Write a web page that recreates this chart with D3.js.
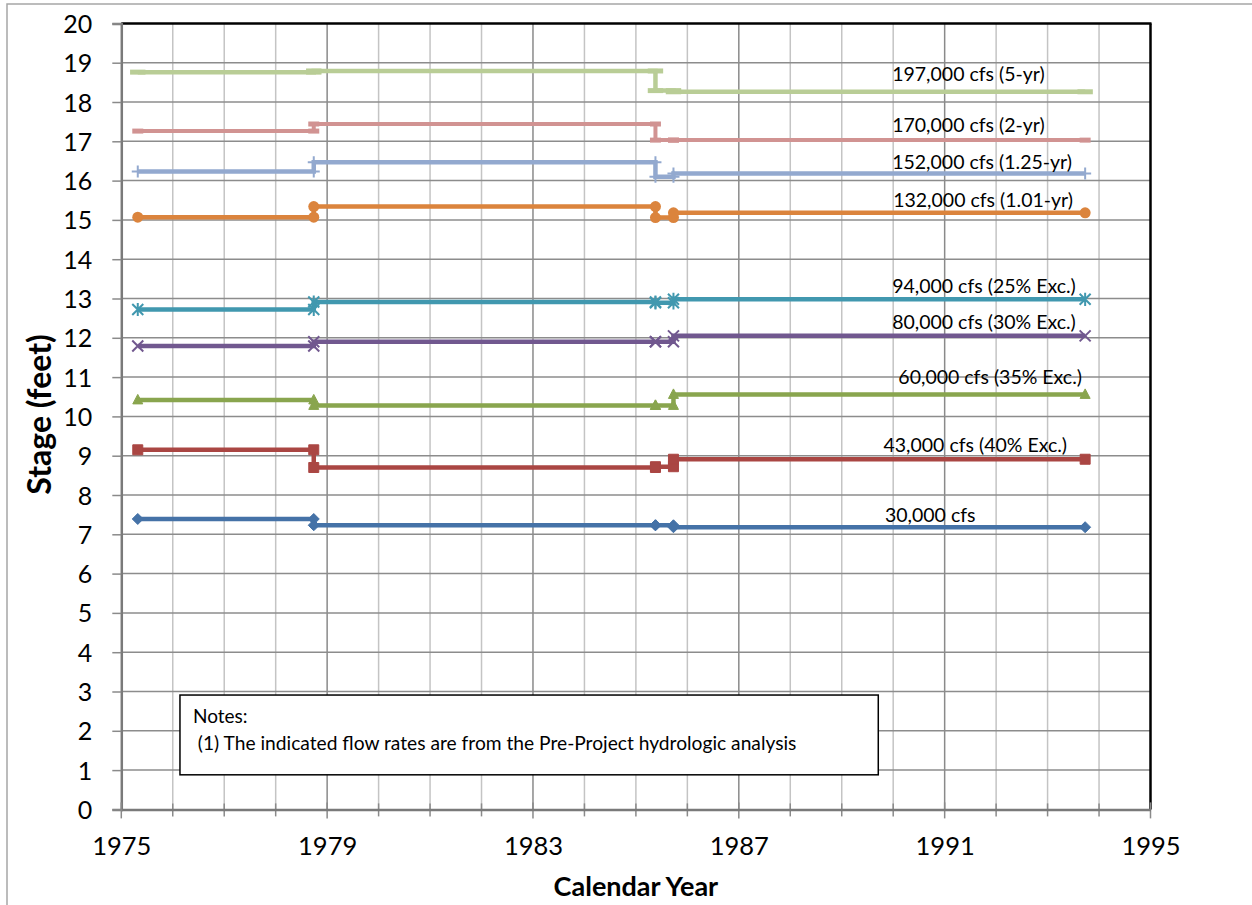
<!DOCTYPE html>
<html><head><meta charset="utf-8">
<script src="https://cdn.jsdelivr.net/npm/d3@7/dist/d3.min.js"></script>
<style>
html,body{margin:0;padding:0;background:#fff;}
svg{display:block;}
text{font-family:Lato,"Open Sans",sans-serif;fill:#000;}
</style></head>
<body>
<svg id="chart" width="1252" height="905"></svg>
<script>
// ---- data ----
const years = [1975.32, 1978.74, 1978.74, 1985.38, 1985.38, 1985.73, 1985.73, 1993.73];
const s30k  = [7.39, 7.39, 7.23, 7.23, 7.23, 7.23, 7.18, 7.18];
const s43k  = [9.15, 9.15, 8.70, 8.70, 8.72, 8.72, 8.91, 8.91];
const s60k  = [10.42, 10.42, 10.28, 10.28, 10.28, 10.28, 10.56, 10.56];
const s80k  = [11.79, 11.79, 11.90, 11.90, 11.90, 11.90, 12.05, 12.05];
const s94k  = [12.72, 12.72, 12.91, 12.91, 12.89, 12.89, 12.98, 12.98];
const s132k = [15.07, 15.07, 15.34, 15.34, 15.06, 15.06, 15.18, 15.18];
const s152k = [16.23, 16.23, 16.47, 16.47, 16.10, 16.10, 16.18, 16.18];
const s170k = [17.26, 17.26, 17.44, 17.44, 17.03, 17.03, 17.03, 17.03];
const s197k = [18.76, 18.76, 18.79, 18.79, 18.29, 18.29, 18.26, 18.26];
const seriesValues = [s30k, s43k, s60k, s80k, s94k, s132k, s152k, s170k, s197k];
const seriesNames = ["30,000 cfs", "43,000 cfs (40% Exc.)", "60,000 cfs (35% Exc.)",
  "80,000 cfs (30% Exc.)", "94,000 cfs (25% Exc.)", "132,000 cfs (1.01-yr)",
  "152,000 cfs (1.25-yr)", "170,000 cfs (2-yr)", "197,000 cfs (5-yr)"];
// label anchors in data units (year, stage of text baseline)
const labelYear  = [1989.84, 1989.81, 1990.10, 1989.98, 1989.98, 1990.0, 1989.98, 1989.98, 1989.98];
const labelStage = [7.32, 9.10, 10.82, 12.22, 13.15, 15.34, 16.30, 17.24, 18.54];
const xTickLabels = [1975, 1979, 1983, 1987, 1991, 1995];
const yTickLabels = d3.range(0, 21);
const noteLines = ["Notes:", " (1) The indicated flow rates are from the Pre-Project hydrologic analysis"];

// ---- styles ----
const colors  = ["#4572A7", "#AA4643", "#89A54E", "#71588F", "#4198AF", "#DB843D", "#93A9CF", "#D19392", "#B9CD96"];
const markers = ["diamond", "square", "triangle", "x", "star", "circle", "plus", "dash", "longdash"];
const widths  = [4.5, 4.5, 4.5, 4.5, 4.5, 4.5, 4.5, 4, 4.5];

const svg = d3.select("#chart");
const L = 121.3, R = 1150.5, T = 23.4, B = 809.4;
const x = d3.scaleLinear().domain([1975, 1995]).range([L, R]);
const y = d3.scaleLinear().domain([0, 20]).range([B, T]);

// outer border
svg.append("rect").attr("x", 7).attr("y", 4).attr("width", 1300).attr("height", 1000)
  .attr("fill", "none").attr("stroke", "#a6a6a6").attr("stroke-width", 1.5);

// gridlines
const g = svg.append("g");
d3.range(1976, 1995).forEach(yr => {
  const major = (yr - 1975) % 4 === 0;
  g.append("line").attr("x1", x(yr)).attr("x2", x(yr)).attr("y1", T).attr("y2", B)
    .attr("stroke", major ? "#8a8a8a" : "#c4c4c4").attr("stroke-width", 1.5);
});
d3.range(1, 20).forEach(v => {
  g.append("line").attr("x1", L).attr("x2", R).attr("y1", y(v)).attr("y2", y(v))
    .attr("stroke", "#8c8c8c").attr("stroke-width", 1.5);
});

// plot border top/right black
svg.append("line").attr("x1", L).attr("x2", R + 1).attr("y1", T).attr("y2", T).attr("stroke", "#000").attr("stroke-width", 2.5);
svg.append("line").attr("x1", R).attr("x2", R).attr("y1", T).attr("y2", B).attr("stroke", "#000").attr("stroke-width", 2.5);

// axes
const yAxis = d3.axisLeft(y).tickValues(yTickLabels).tickSize(9).tickPadding(20).tickFormat(d3.format("d"));
const ya = svg.append("g").attr("transform", `translate(${L},0)`).call(yAxis);
ya.select(".domain").attr("stroke", "#7a7a7a").attr("stroke-width", 2.5);
ya.selectAll(".tick line").attr("stroke", "#8a8a8a").attr("stroke-width", 1.5);
ya.selectAll(".tick text").attr("font-size", 25).attr("font-family", "Lato").attr("fill", "#000").attr("dy", "0.36em");

// x minor ticks
d3.range(1975, 1996).forEach(yr => {
  const major = (yr - 1975) % 4 === 0;
  svg.append("line").attr("x1", x(yr)).attr("x2", x(yr)).attr("y1", B - (major ? 7 : 6)).attr("y2", B + (major ? 9 : 7))
    .attr("stroke", "#8a8a8a").attr("stroke-width", 1.5);
});
const xAxis = d3.axisBottom(x).tickValues(xTickLabels).tickSize(0).tickPadding(28).tickFormat(d3.format("d"));
const xa = svg.append("g").attr("transform", `translate(0,${B})`).call(xAxis);
xa.select(".domain").attr("stroke", "#7a7a7a").attr("stroke-width", 2.5);
xa.selectAll(".tick text").attr("font-size", 25.5).attr("font-family", "Lato").attr("fill", "#000");

// axis titles
svg.append("text").attr("transform", `translate(51,${(T + B) / 2 - 2}) rotate(-90)`)
  .attr("text-anchor", "middle").attr("font-size", 32).attr("font-weight", "bold").text("Stage (feet)");
svg.append("text").attr("x", (L + R) / 2).attr("y", 896)
  .attr("text-anchor", "middle").attr("font-size", 27).attr("font-weight", "bold").text("Calendar Year");

// notes box
const nb = svg.append("g");
nb.append("rect").attr("x", x(1976.14)).attr("y", y(2.91)).attr("width", x(1989.71) - x(1976.14)).attr("height", y(0.88) - y(2.91))
  .attr("fill", "#fff").attr("stroke", "#000").attr("stroke-width", 1.5);
nb.append("text").attr("x", x(1976.14) + 13).attr("y", y(2.91) + 28).attr("font-size", 19).text(noteLines[0]);
nb.append("text").attr("x", x(1976.14) + 13).attr("y", y(2.91) + 55).attr("font-size", 19.2)
  .attr("xml:space", "preserve").style("white-space", "pre").text(noteLines[1]);

// series
const line = d3.line().x(d => x(d[0])).y(d => y(d[1]));
function markerPath(type, s) {
  const h = s / 2;
  switch (type) {
    case "diamond": return `M0,${-h}L${h},0L0,${h}L${-h},0Z`;
    case "square": return `M${-h},${-h}H${h}V${h}H${-h}Z`;
    case "triangle": return `M0,${-h * 1.1}L${h},${h * 0.8}L${-h},${h * 0.8}Z`;
    case "x": return `M${-h},${-h}L${h},${h}M${-h},${h}L${h},${-h}`;
    case "star": return `M${-h},${-h}L${h},${h}M${-h},${h}L${h},${-h}M0,${-h * 1.2}V${h * 1.2}`;
    case "plus": return `M${-h},0H${h}M0,${-h}V${h}`;
    case "dash": return `M${-h},0H${h}`;
    case "longdash": return `M${-h * 1.4},0H${h * 1.4}`;
  }
}
seriesValues.forEach((vals, i) => {
  const pts = years.map((yr, k) => [yr, vals[k]]);
  const sg = svg.append("g");
  sg.append("path").attr("d", line(pts)).attr("fill", "none").attr("stroke", colors[i])
    .attr("stroke-width", widths[i]).attr("stroke-linejoin", "miter");
  const type = markers[i];
  pts.forEach(p => {
    const t = `translate(${x(p[0])},${y(p[1])})`;
    if (type === "circle") {
      sg.append("circle").attr("cx", x(p[0])).attr("cy", y(p[1])).attr("r", 5.5).attr("fill", colors[i]);
    } else if (["diamond", "square", "triangle"].includes(type)) {
      sg.append("path").attr("transform", t).attr("d", markerPath(type, type === "diamond" ? 11 : 10))
        .attr("fill", colors[i]).attr("stroke", colors[i]).attr("stroke-width", 1);
    } else {
      const sw = (type === "dash" || type === "longdash") ? 5 : 2;
      sg.append("path").attr("transform", t).attr("d", markerPath(type, type === "plus" ? 12 : 11))
        .attr("fill", "none").attr("stroke", colors[i]).attr("stroke-width", sw);
    }
  });
});

// series labels
seriesNames.forEach((name, i) => {
  svg.append("text").attr("x", x(labelYear[i])).attr("y", y(labelStage[i]))
    .attr("font-size", 19.5).text(name);
});
</script>
</body></html>
